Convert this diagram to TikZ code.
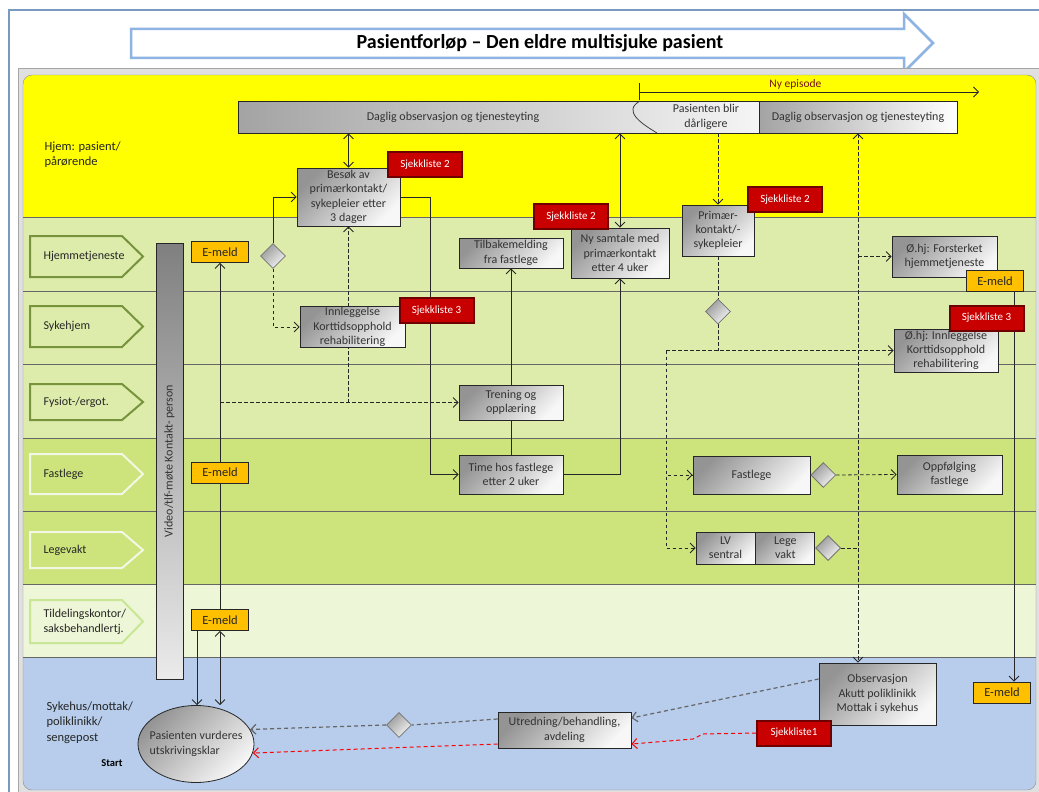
\documentclass[tikz,border=0pt]{standalone}
\usepackage{fontspec}
\setmainfont{Carlito}
\usetikzlibrary{arrows.meta,shapes.geometric,positioning}

\definecolor{laneyellow}{RGB}{255,255,0}
\definecolor{lanelight}{RGB}{221,236,171}
\definecolor{lanemid}{RGB}{205,228,124}
\definecolor{lanepale}{RGB}{237,246,214}
\definecolor{laneblue}{RGB}{183,205,235}
\definecolor{tagolive}{RGB}{119,147,60}
\definecolor{tagwhite}{RGB}{243,248,230}
\definecolor{tagpale}{RGB}{200,230,150}
\definecolor{frameblue}{RGB}{141,180,226}
\definecolor{emeldcol}{RGB}{255,192,0}
\definecolor{sjred}{RGB}{200,0,0}
\definecolor{sjdark}{RGB}{110,0,0}
\definecolor{episode}{RGB}{120,20,20}

\pgfdeclarelayer{lanes}
\pgfdeclarelayer{lines}
\pgfsetlayers{lanes,lines,main}

\begin{document}
\begin{tikzpicture}
	[x=1pt,y=-1pt,
	font=\fontsize{12}{14.3}\selectfont,
	%Styles
	barb/.tip={Straight Barb[length=5pt,width=10pt]},
	box/.style={draw=black!85,line width=.8pt,top color=black!42,bottom color=black!3,shading angle=45,text=black!80,align=center,inner sep=1pt},
	vbar/.style={box,top color=black!50,bottom color=black!8,shading angle=0},
	boxtext/.style={text=black!80,align=center},
	dia/.style={diamond,draw=black!55,line width=.8pt,top color=black!40,bottom color=black!4,shading angle=45,minimum size=25pt,inner sep=0pt},
	emeld/.style={draw=black!85,line width=.8pt,fill=emeldcol,text=black!85,minimum width=57pt,minimum height=21pt,inner sep=0pt,font=\fontsize{12.5}{14}\selectfont},
	sjekk/.style={draw=sjdark,line width=2pt,fill=sjred,text=white,minimum width=74pt,minimum height=25pt,inner sep=0pt,font=\fontsize{11}{13}\selectfont},
	lanetag/.style={line width=2pt,line join=miter},
	tagtext/.style={anchor=west,align=left,text=black!85,font=\fontsize{12}{15}\selectfont},
	lanetext/.style={anchor=west,align=left,text=black!85,font=\fontsize{12.5}{15.5}\selectfont},
	laneline/.style={draw=black!60,line width=1pt},
	arr/.style={draw=black!85,line width=.8pt,-barb},
	both/.style={draw=black!85,line width=.8pt,barb-barb},
	dashlink/.style={draw=black!85,line width=.8pt,dash pattern=on 3.5pt off 2.5pt},
	dasharr/.style={dashlink,-barb},
	dashboth/.style={dashlink,barb-barb},
	greydash/.style={draw=black!60,line width=1.2pt,dash pattern=on 4pt off 3pt},
	greyarr/.style={greydash,-barb},
	redarr/.style={draw=red,line width=1pt,dash pattern=on 4pt off 3pt,-barb}
	]
	\useasboundingbox (0,0) rectangle (1039,792);
	
	%Lanes and frame
	\begin{pgfonlayer}{lanes}
		\fill[white] (0,0) rectangle (1039,792);
		\draw[line width=2pt,draw=frameblue!85!black] (9,800) -- (9,10) -- (1045,10);
		\draw[line width=2.5pt,draw=frameblue,fill=white] (131,29) -- (904,29) -- (904,14) -- (933,43) -- (904,72) -- (904,58) -- (131,58) -- cycle;
		\fill[black!12] (18,68) rectangle (1045,800);
		\draw[black!35] (18,68) rectangle (1045,800);
		\begin{scope}
			\clip[rounded corners=9pt] (23,75) rectangle (1036,790);
			\foreach \ytop/\ybot/\col in {75/217/laneyellow,217/291/lanelight,291/364/lanelight,364/438/lanelight,438/511/lanemid,511/584/lanemid,584/657/lanepale,657/790/laneblue}
				\fill[\col] (23,\ytop) rectangle (1036,\ybot);
		\end{scope}
		\draw[black!45,rounded corners=9pt] (23,75) rectangle (1036,790);
		\foreach \y in {217,291,364,438,511,584,657}
			\draw[laneline] (23,\y) -- (1036,\y);
		\foreach \y/\h/\col/\txt [count=\i] in {256.5/20.5/tagolive/Hjemmetjeneste,326.5/20.5/tagolive/Sykehjem,402/18/tagolive/{Fysiot-/ergot.},474/20/tagwhite/Fastlege,550/18/tagwhite/Legevakt,621.5/21.5/tagpale/{Tildelingskontor/\\saksbehandlertj.}}
		{
			\draw[lanetag,draw=\col] (30,\y-\h) -- (122,\y-\h) -- (143,\y) -- (122,\y+\h) -- (30,\y+\h) -- cycle;
			\node[tagtext] (tag\i) at (40,\y) {\txt};
		}
	\end{pgfonlayer}
	
	\node[font=\bfseries\fontsize{20}{23}\selectfont] (title) at (540,43) {Pasientforløp – Den eldre multisjuke pasient};
	\node[lanetext] (hjem) at (41,154.5) {Hjem: pasient/\\pårørende};
	\node[lanetext] (sykehus) at (43,722.5) {Sykehus/mottak/\\poliklinikk/\\sengepost};
	\node[font=\bfseries\fontsize{10.5}{12}\selectfont] (start) at (112,763) {Start};
	
	%Top bar
	\node[box,minimum width=521pt,minimum height=32pt,left color=black!36,right color=black!4] (daglig) at (498.5,117) {};
	\node[boxtext] (dagligtxt) at (453,117) {Daglig observasjon og tjenesteyting};
	\node[boxtext] (verre) at (706,117) {Pasienten blir\\dårligere};
	\node[box,minimum width=198pt,minimum height=32pt,left color=black!36,right color=white] (dagligny) at (858,117) {Daglig observasjon og tjenesteyting};
	\draw[black!75,line width=.8pt] (640,101) .. controls (622,111) and (642,124) .. (657,133);
	\coordinate (nystart) at (639,92);
	\coordinate (nyend) at (979,92);
	
	%Boxes
	\node[vbar,rotate=90,minimum width=436pt,minimum height=27pt] (video) at (169.5,461) {Video/tlf-møte Kontakt- person};
	\node[box,minimum width=103pt,minimum height=58pt] (besok) at (348.5,197) {Besøk av\\primærkontakt/\\sykepleier etter\\3 dager};
	\node[box,minimum width=105pt,minimum height=40pt] (innl) at (352.5,327) {Innleggelse\\Korttidsopphold\\rehabilitering};
	\node[box,minimum width=104pt,minimum height=30pt] (tilbake) at (511,253) {Tilbakemelding\\fra fastlege};
	\node[box,minimum width=104pt,minimum height=35pt] (trening) at (511,402.5) {Trening og\\opplæring};
	\node[box,minimum width=104pt,minimum height=39pt] (time) at (511,474.5) {Time hos fastlege\\etter 2 uker};
	\node[box,minimum width=98pt,minimum height=50pt] (nysamtale) at (620,253) {Ny samtale med\\primærkontakt\\etter 4 uker};
	\node[box,minimum width=72pt,minimum height=51pt] (primaer) at (718,230.5) {Primær-\\kontakt/-\\sykepleier};
	\node[box,minimum width=105pt,minimum height=41pt] (ohjF) at (944.5,256.5) {Ø.hj: Forsterket\\hjemmetjeneste};
	\node[box,minimum width=104pt,minimum height=43pt] (ohjI) at (946,350.5) {Ø.hj: Innleggelse\\Korttidsopphold\\rehabilitering};
	\node[box,minimum width=117pt,minimum height=38pt] (fastlegeB) at (751.5,475) {Fastlege};
	\node[dia] (d3) [right=0pt of fastlegeB] {};
	\node[box,minimum width=105pt,minimum height=39pt] (oppf) at (949.5,474.5) {Oppfølging\\fastlege};
	\node[box,minimum width=59pt,minimum height=32pt] (lvs) at (725.5,548) {LV\\sentral};
	\node[box,minimum width=59pt,minimum height=32pt] (lvl) [right=0pt of lvs] {Lege\\vakt};
	\node[dia] (d4) [right=0pt of lvl] {};
	\node[box,minimum width=117pt,minimum height=62pt] (obs) at (877.5,694) {Observasjon\\Akutt poliklinikk\\Mottak i sykehus};
	\node[box,minimum width=133pt,minimum height=36pt] (utred) at (564.5,730) {Utredning/behandling,\\avdeling};
	\node[box,ellipse,align=left,inner xsep=-7pt,inner ysep=12pt,minimum width=116pt,minimum height=77pt] (pas) at (196,744) {Pasienten vurderes\\utskrivingsklar};
	\node[dia] (d1) at (273,256) {};
	\node[dia] (d2) at (718,311.5) {};
	\node[dia] (d5) at (399,725) {};
	\coordinate (split) at (666,350.5);
	
	%E-meld and Sjekkliste
	\node[emeld] (em1) at (220,252) {E-meld};
	\node[emeld] (em2) at (220,472.5) {E-meld};
	\node[emeld] (em3) at (220,620) {E-meld};
	\node[emeld] (em4) at (995,281) {E-meld};
	\node[emeld] (em5) at (1002,692.5) {E-meld};
	\node[sjekk] (sj2a) at (425,164.5) {Sjekkliste 2};
	\node[sjekk] (sj3a) at (436.5,310.5) {Sjekkliste 3};
	\node[sjekk] (sj2b) at (571,216.5) {Sjekkliste 2};
	\node[sjekk] (sj2c) at (785,199.5) {Sjekkliste 2};
	\node[sjekk] (sj3b) at (986.5,318) {Sjekkliste 3};
	\node[sjekk] (sj1) at (794,733) {Sjekkliste1};
	
	%Connectors
	\begin{pgfonlayer}{lines}
		\draw[arr] (nystart) -- node[pos=.46,above=-1pt,text=episode,font=\fontsize{11.5}{13}\selectfont] (nylabel) {Ny episode} (nyend);
		\draw[draw=black!85,line width=.8pt] ([yshift=9pt]nystart) -- ([yshift=-8pt]nystart);
		\draw[both] (besok.north) -- (besok.north |- daglig.south);
		\draw[both] (nysamtale.north) -- (nysamtale.north |- daglig.south);
		\draw[dasharr] (primaer.north |- daglig.south) -- (primaer.north);
		\draw[dashboth] (dagligny.south) -- (dagligny.south |- obs.north);
		\draw[dasharr] (dagligny.south |- ohjF.west) -- (ohjF.west);
		\draw[arr] (d1.north) |- (besok.west);
		\draw[dasharr] (d1.south) |- (innl.west);
		\draw[arr] (besok.east) -- ++(30,0) |- (time.west);
		\draw[dasharr] (em1.south |- trening.west) -- (trening.west);
		\draw[dasharr] (besok.south |- trening.west) -- (besok.south);
		\draw[arr] (time.north) -- (tilbake.south);
		\draw[arr] (time.east) -| (nysamtale.south);
		\draw[arr] (em3.north) -- (em1.south);
		\draw[both] (em3.south) -- (em3.south |- pas.north);
		\draw[arr] ([xshift=-23pt]em3.south) -- ([xshift=-23pt]em3.south |- pas.north);
		\draw[dashlink] (primaer.south) -- (d2.north);
		\draw[dashlink] (d2.south) -- (d2.south |- split);
		\draw[dasharr] (split) -- (ohjI.west);
		\draw[dasharr] (split) |- (fastlegeB.west);
		\draw[dasharr] (split) |- (lvs.west);
		\draw[dasharr] (d3.east) -- (oppf.west);
		\draw[dashlink] (d4.east) -- (d4.east -| dagligny.south);
		\draw[arr] ([xshift=19pt]em4.south) -- ([xshift=19pt]em4.south |- em5.north);
		\draw[greyarr] ([yshift=15pt]obs.west) -- ([yshift=12pt]utred.east);
		\draw[greydash] ([yshift=11pt]utred.west) -- (d5.east);
		\draw[greyarr] (d5.west) -- (pas.15);
		\draw[redarr] (sj1.west) -- ++(-53,1) -- ++(-10,5) -- ([yshift=-14pt]utred.east);
		\draw[redarr] ([yshift=-14pt]utred.west) -- (pas.-9);
	\end{pgfonlayer}
\end{tikzpicture}
\end{document}
